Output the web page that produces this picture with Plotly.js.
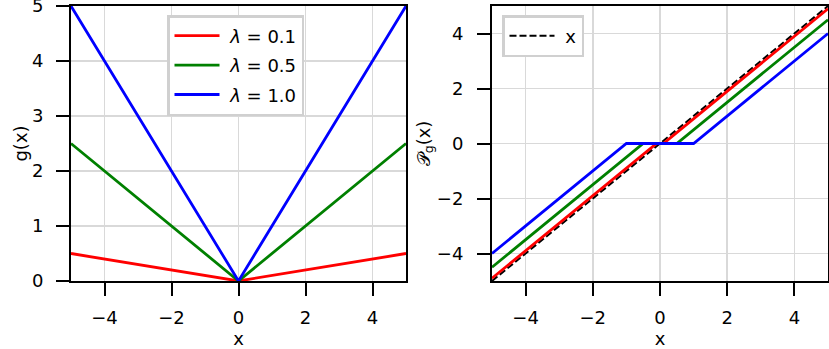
<!DOCTYPE html>
<html>
<head>
<meta charset="utf-8">
<script src="https://cdn.plot.ly/plotly-3.0.1.min.js"></script>
<style>html,body{margin:0;padding:0;background:#fff;}#chart{width:829px;height:349px;}</style>
</head>
<body>
<div id="chart"></div>
<script>
// ---- data ----
const lambdaNames = ["<i>\u03bb</i> = 0.1", "<i>\u03bb</i> = 0.5", "<i>\u03bb</i> = 1.0"];
const colors = ["#ff0000", "#008000", "#0000ff"];
// left panel: g(x) = lambda*|x|
const gX = [-5, 0, 5];
const gY01 = [0.5, 0, 0.5];
const gY05 = [2.5, 0, 2.5];
const gY10 = [5, 0, 5];
// right panel: proximal operator (soft thresholding)
const pX01 = [-5, -0.1, 0.1, 5];
const pY01 = [-4.9, 0, 0, 4.9];
const pX05 = [-5, -0.5, 0.5, 5];
const pY05 = [-4.5, 0, 0, 4.5];
const pX10 = [-5, -1, 1, 5];
const pY10 = [-4, 0, 0, 4];
const idX = [-5, 5];
const idY = [-5, 5];
const xTicks = [-4, -2, 0, 2, 4];
const xTickText = ["\u22124", "\u22122", "0", "2", "4"];
const yLeftTicks = [0, 1, 2, 3, 4, 5];
const yRightTicks = [-4, -2, 0, 2, 4];
const yRightText = ["\u22124", "\u22122", "0", "2", "4"];

const gYs = [gY01, gY05, gY10];
const pXs = [pX01, pX05, pX10];
const pYs = [pY01, pY05, pY10];

const traces = [];
for (let i = 0; i < 3; i++) {
  traces.push({x: gX, y: gYs[i], mode: "lines", name: "\u00a0" + lambdaNames[i],
    legendgroup: "g" + i,
    line: {color: colors[i], width: 2.8}, xaxis: "x", yaxis: "y", legend: "legend"});
}
traces.push({x: idX, y: idY, mode: "lines", name: "\u00a0x",
  line: {color: "#000", width: 2, dash: "7px,3px"}, xaxis: "x2", yaxis: "y2", legend: "legend2"});
for (let i = 0; i < 3; i++) {
  traces.push({x: pXs[i], y: pYs[i], mode: "lines", name: lambdaNames[i], showlegend: false,
    line: {color: colors[i], width: 2.8}, xaxis: "x2", yaxis: "y2"});
}

const font = {family: "DejaVu Sans", size: 18, color: "#000"};
const axCommon = {
  showline: true, linecolor: "#000", linewidth: 2, mirror: true,
  ticks: "outside", ticklen: 13, tickwidth: 2, tickcolor: "#000",
  showgrid: true, gridcolor: "#d9d9d9", gridwidth: 1.5, zeroline: false,
  tickfont: font, ticklabeloverflow: "allow"
};
const yDom = [1 - 281/349, 1 - 6/349];
const layout = {
  width: 829, height: 349,
  margin: {l: 0, r: 0, t: 0, b: 0},
  paper_bgcolor: "#fff", plot_bgcolor: "#fff",
  font: font,
  xaxis: Object.assign({}, axCommon, {domain: [71/829, 406/829], range: [-5, 5],
    tickvals: xTicks, ticktext: xTickText, ticklabelstandoff: 6,
    title: {text: "x", font: font, standoff: 18}}),
  yaxis: Object.assign({}, axCommon, {domain: yDom, range: [0, 5],
    tickvals: yLeftTicks, ticklabelstandoff: 9,
    title: {text: "g(x)", font: font, standoff: 0}}),
  xaxis2: Object.assign({}, axCommon, {domain: [492/829, 828/829], range: [-5, 5],
    tickvals: xTicks, ticktext: xTickText, anchor: "y2", ticklabelstandoff: 6,
    title: {text: "x", font: font, standoff: 18}}),
  yaxis2: Object.assign({}, axCommon, {domain: yDom, range: [-5, 5], anchor: "x2",
    tickvals: yRightTicks, ticktext: yRightText, ticklabelstandoff: 10,
    title: {text: "\ud835\udcab<sub>g</sub>(x)", font: font, standoff: 2}}),
  legend: {x: 167/829, y: 1 - 15/349, xanchor: "left", yanchor: "top",
    bgcolor: "#fff", bordercolor: "#d0d0d0", borderwidth: 2.5, font: font,
    tracegroupgap: 3, itemwidth: 45},
  legend2: {x: 502/829, y: 1 - 15/349, xanchor: "left", yanchor: "top",
    bgcolor: "#fff", bordercolor: "#d0d0d0", borderwidth: 2.5, font: font,
    itemwidth: 45},
  showlegend: true
};
Plotly.newPlot("chart", traces, layout, {staticPlot: true, displayModeBar: false});
</script>
</body>
</html>
